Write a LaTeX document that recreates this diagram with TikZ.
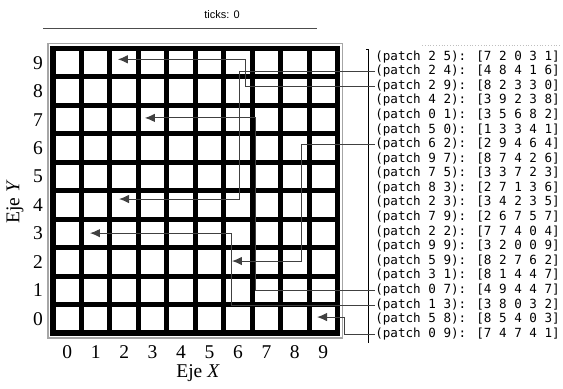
\documentclass[tikz,border=0pt]{standalone}
\usepackage{fontspec}
\setmainfont{Liberation Serif}
\newfontfamily\listfont{DejaVu Sans Mono}
\newfontfamily\tickfont{Liberation Sans}
\usetikzlibrary{arrows.meta}
\begin{document}
\begin{tikzpicture}[
  conn/.style={draw=black!75, line width=1pt, -{Latex[length=10pt,width=8.5pt]}},
  patch/.style={anchor=west, inner sep=0pt, text height=9pt, text depth=3pt,
    font=\listfont\fontsize{12.6}{14}\selectfont},
  lbl/.style={font=\fontsize{19.5}{20}\selectfont, inner sep=0pt}]
  \useasboundingbox (-1.863,-1.933) rectangle (17.926,11.705);
  % Title
  \node[font=\tickfont\fontsize{11}{12}\selectfont] (ticks) at (5.94,11.18) {ticks: 0};
  \draw[black!70, line width=0.8pt] (-0.35,10.69) -- (9.28,10.69);
  % World of patches
  \draw[gray!70, line width=1.6pt] (-0.18,-0.18) rectangle (10.18,10.18);
  \draw[line width=5pt] (0,0) grid (10,10);
  \draw[line width=5.5pt] (0,0) rectangle (10,10);
  % Axes
  \foreach \i in {0,...,9}{
    \node[lbl] (x\i) at (\i+0.5,-0.67) {\i};
    \node[lbl] (y\i) at (-0.53,\i+0.5) {\i};
  }
  \node[lbl] (xlab) at (5.1,-1.41) {Eje \textit{X}};
  \node[lbl, rotate=90] (ylab) at (-1.34,4.6) {Eje \textit{Y}};
  % Patch list
  \draw[line width=0.8pt] (11.0,9.98) -- (11.1,9.98) -- (11.1,-0.35);
  \draw[gray!50, dotted, line width=0.8pt] (12.97,10.12) -- (17.82,10.12);
  \foreach \px/\py/\vals [count=\k from 0] in {2/5/7 2 0 3 1, 2/4/4 8 4 1 6,
      2/9/8 2 3 3 0, 4/2/3 9 2 3 8, 0/1/3 5 6 8 2, 5/0/1 3 3 4 1,
      6/2/2 9 4 6 4, 9/7/8 7 4 2 6, 7/5/3 3 7 2 3, 8/3/2 7 1 3 6,
      2/3/3 4 2 3 5, 7/9/2 6 7 5 7, 2/2/7 7 4 0 4, 9/9/3 2 0 0 9,
      5/9/8 2 7 6 2, 3/1/8 1 4 4 7, 0/7/4 9 4 4 7, 1/3/3 8 0 3 2,
      5/8/8 5 4 0 3, 0/9/7 4 7 4 1}
    \node[patch] (p\px\py) at (11.32,9.70-0.513*\k) {(patch \px\ \py): [\vals]};
  % Arrow ends
  \coordinate (t29) at (2.28,9.62);
  \coordinate (t37) at (3.23,7.56);
  \coordinate (t24) at (2.32,4.71);
  \coordinate (t13) at (1.30,3.51);
  \coordinate (t62) at (6.29,2.53);
  \coordinate (t90) at (9.28,0.56);
  % Connectors
  \draw[conn] (p24.west) -| (6.54,0 |- t24) -- (t24);
  \draw[conn] (p29.west) -| (6.75,0 |- t29) -- (t29);
  \draw[conn] (p62.west) -| (8.75,0 |- t62) -- (t62);
  \draw[conn] (p07.west) -| (7.10,0 |- t37) -- (t37);
  \draw[conn] (p13.west) -| (6.29,0 |- t13) -- (t13);
  \draw[conn] (p09.west) -| (10.26,0 |- t90) -- (t90);
\end{tikzpicture}
\end{document}
